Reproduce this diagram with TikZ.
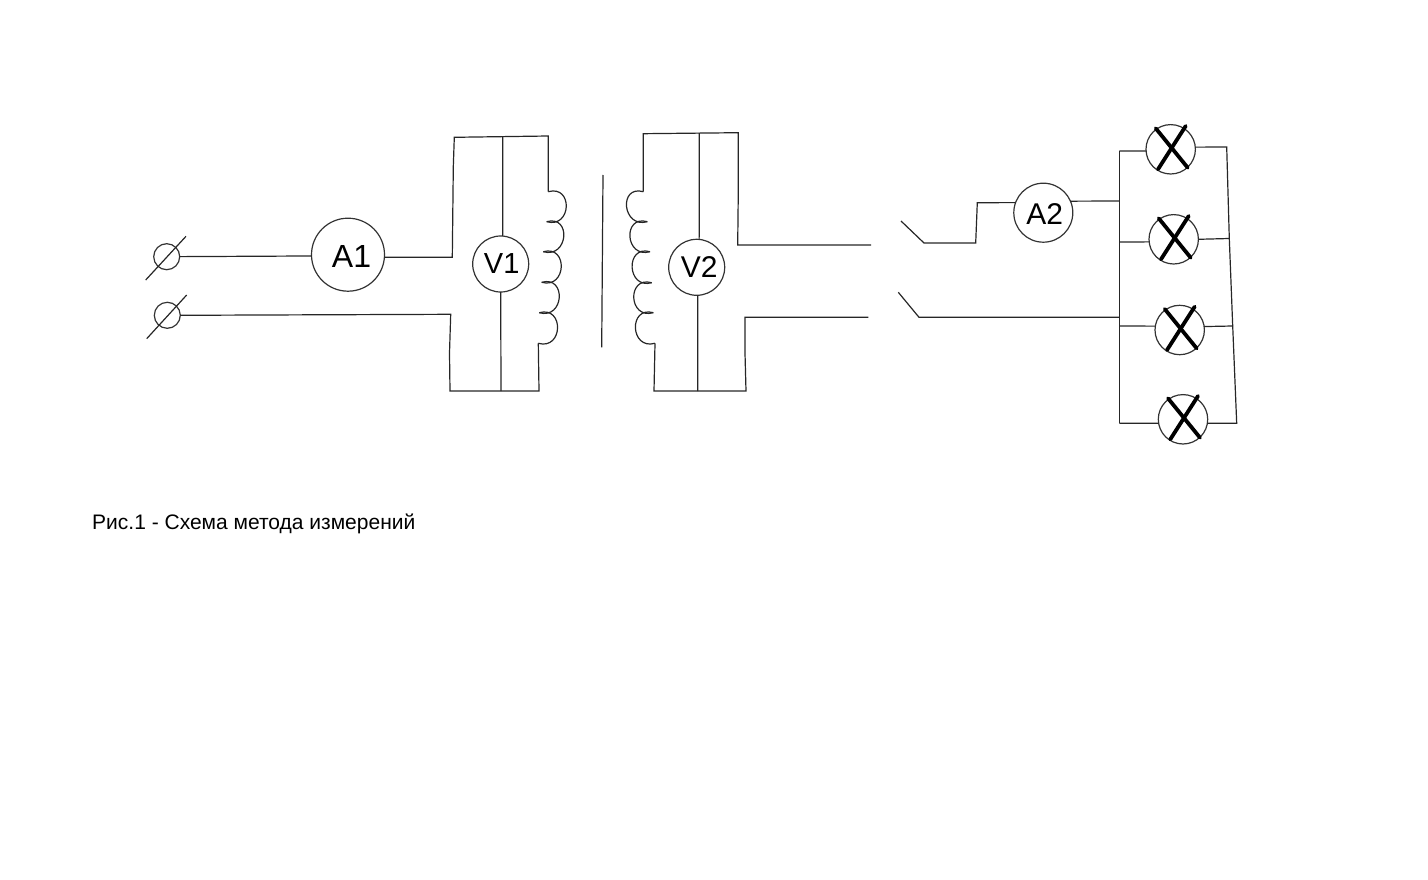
\documentclass[tikz,border=0pt]{standalone}
\usepackage{fontspec}
\setmainfont{Liberation Sans}
\tikzset{
	meter/.style={circle,draw=black!80,line width=1.2pt,inner sep=0pt,outer sep=0pt,minimum size=#1},
	terminal/.style={meter=26pt},
	lamp/.style={meter=49.4pt},
	wire/.style={draw=black!85,line width=1.2pt},
	filament/.style={draw=black,line width=3.8pt,line cap=round}
}

\begin{document}
\begin{tikzpicture}[x=1pt,y=-1pt]
		\useasboundingbox (0,0) rectangle (1428,880);

		% instruments and terminals
		\node[terminal] (term1) at (166.7,256.7) {};
		\node[terminal] (term2) at (167.3,315.3) {};
		\node[meter=73pt,label={[font=\fontsize{32}{32}\selectfont,xshift=3.5pt,yshift=-1.5pt]center:A1}] (a1) at (348,254.7) {};
		\node[meter=56pt,label={[font=\fontsize{29}{29}\selectfont,xshift=1pt]center:V1}] (v1) at (500.7,264) {};
		\node[meter=56pt,label={[font=\fontsize{30}{30}\selectfont,xshift=2.5pt]center:V2}] (v2) at (696.7,267.3) {};
		\node[meter=59pt,label={[font=\fontsize{30}{30}\selectfont,xshift=1.5pt,yshift=-1pt]center:A2}] (a2) at (1043.3,212.7) {};

		% lamps
		\node[lamp] (lamp1) at (1170.7,149.3) {};
		\node[lamp] (lamp2) at (1173.7,239.3) {};
		\node[lamp] (lamp3) at (1179.7,330) {};
		\node[lamp] (lamp4) at (1183,419.3) {};
		\foreach \l in {lamp1,lamp2,lamp3,lamp4} {
			\draw[filament] ([shift={(-15,-21)}]\l.center) -- ([shift={(17,18.4)}]\l.center);
			\draw[filament] ([shift={(15,-23.3)}]\l.center) -- ([shift={(-12.7,20)}]\l.center);
		}

		% terminal slashes
		\coordinate (slash1a) at (145.7,280);
		\coordinate (slash1b) at (186,236.3);
		\coordinate (slash2a) at (146.7,338.7);
		\coordinate (slash2b) at (186.7,295);
		\draw[wire] (slash1a) -- (slash1b);
		\draw[wire] (slash2a) -- (slash2b);

		% primary side
		\coordinate (pritl) at (454.3,137.3);
		\coordinate (pritm) at (502.7,136.5);
		\coordinate (pritr) at (548.3,136);
		\coordinate (pribl) at (450,391);
		\coordinate (pribm) at (501,391);
		\coordinate (pribr) at (539,391);
		\draw[wire] (term1) -- (a1.182);
		\draw[wire] (a1.356) -- (452.3,257.3) -- (453.3,166.7) -- (pritl) -- (pritr) -- (548.3,191.7);
		\draw[wire] (term2.east) -- (450.7,314.3) -- (449.5,353) -- (pribl) -- (pribr) -- (538.3,343.3);
		\draw[wire] (pritm) -- (v1.86);
		\draw[wire] (v1.270) -- (pribm);

		% primary coil
		\foreach \ya/\xa/\yb/\xb in {191.7/548.3/221.7/546.7,221.7/546.7/251.7/543.3,251.7/543.3/282.3/541.7,282.3/541.7/312.7/539.3,312.7/539.3/343.3/538.3}
			\draw[wire] (\xa,\ya) .. controls +(25,-7) and +(25,7) .. (\xb,\yb);

		% core
		\coordinate (corea) at (603,175);
		\coordinate (coreb) at (601.7,347.3);
		\draw[wire] (corea) -- (coreb);

		% secondary coil
		\foreach \ya/\xa/\yb/\xb in {191.7/643.3/221.7/647.3,221.7/647.3/251.7/650,251.7/650/282.7/651.7,282.7/651.7/312.7/653.3,312.7/653.3/343.3/655}
			\draw[wire] (\xa,\ya) .. controls +(-25,-7) and +(-25,7) .. (\xb,\yb);

		% secondary side
		\coordinate (sectl) at (643.3,133.7);
		\coordinate (sectm) at (699.3,133);
		\coordinate (sectr) at (738.3,132.7);
		\coordinate (secbl) at (654,391);
		\coordinate (secbm) at (697.7,391);
		\coordinate (secbr) at (746,391);
		\coordinate (out1) at (871,245);
		\coordinate (out2) at (868.3,317.3);
		\draw[wire] (643.3,191.7) -- (sectl) -- (sectr) -- (738.3,190) -- (737.7,245) -- (out1);
		\draw[wire] (655,343.3) -- (secbl) -- (secbr) -- (745,353) -- (745,317.3) -- (out2);
		\draw[wire] (sectm) -- (v2.85);
		\draw[wire] (v2.272) -- (secbm);

		% switches and bus
		\coordinate (sw1) at (901,221);
		\coordinate (sw2) at (898.3,292.3);
		\coordinate (bustop) at (1119.3,151);
		\coordinate (busa) at (1119.3,201);
		\coordinate (busb) at (1119.3,242);
		\coordinate (busc) at (1119.3,317.3);
		\coordinate (busd) at (1119.3,326);
		\coordinate (busbot) at (1119.3,423.3);
		\draw[wire] (sw1) -- (924,243) -- (975.7,243) -- (977.3,202.7) -- (a2.160);
		\draw[wire] (sw2) -- (919,317.3) -- (busc);
		\draw[wire] (a2.23) -- (busa);
		\draw[wire] (bustop) -- (busbot);

		% lamp wiring
		\coordinate (rbus1) at (1226.7,147);
		\coordinate (rbus2) at (1229.3,238.5);
		\coordinate (rbus3) at (1232.7,326);
		\coordinate (rbus4) at (1236.7,423.3);
		\draw[wire] (bustop) -- (lamp1.184);
		\draw[wire] (busb) -- (lamp2.186);
		\draw[wire] (busd) -- (lamp3.171);
		\draw[wire] (busbot) -- (lamp4.189);
		\draw[wire] (lamp1.5) -- (rbus1) -- (rbus2) -- (rbus3) -- (rbus4) -- (lamp4.351);
		\draw[wire] (lamp2.0) -- (rbus2);
		\draw[wire] (lamp3.8) -- (rbus3);

		\node[anchor=base west,inner sep=0pt,font=\fontsize{21}{21}\selectfont] (caption) at (92,529) {Рис.1 - Схема метода измерений};
\end{tikzpicture}
\end{document}
